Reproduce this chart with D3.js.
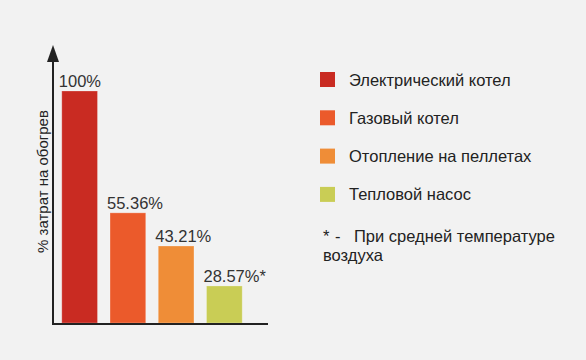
<!DOCTYPE html>
<html><head><meta charset="utf-8">
<script src="https://cdn.jsdelivr.net/npm/d3@7"></script>
<style>
html,body{margin:0;padding:0;background:#f2f2f2;}
svg{display:block;font-family:Arial,"Liberation Sans",sans-serif;}
</style></head>
<body>
<svg id="chart" width="586" height="360"></svg>
<script>
const categories = ["Электрический котел", "Газовый котел", "Отопление на пеллетах", "Тепловой насос"];
const values = [100, 55.36, 43.21, 28.57];
const valueLabels = ["100%", "55.36%", "43.21%", "28.57%*"];
const colors = ["#c92b22", "#eb5a2b", "#ef8d37", "#c9cd55"];
const yTitle = "% затрат на обогрев";
const footnoteMark = ["*", "-"];
const footnote = ["При средней температуре", "воздуха"];

const svg = d3.select("#chart");
svg.append("rect").attr("width",586).attr("height",360).attr("fill","#f2f2f2");

const x = d3.scaleBand().domain(categories).range([56, 248]).paddingInner(0.26).paddingOuter(0.12);
const y = d3.scaleLinear().domain([15, 100]).range([323, 91]);

svg.selectAll("rect.bar").data(values).join("rect")
  .attr("class","bar")
  .attr("x",(d,i)=>x(categories[i]))
  .attr("y",d=>y(d))
  .attr("width",x.bandwidth())
  .attr("height",d=>y.range()[0]-y(d))
  .attr("fill",(d,i)=>colors[i])
  .attr("stroke","rgba(255,255,255,0.25)").attr("stroke-width",1);

svg.selectAll("text.vl").data(values).join("text")
  .attr("class","vl")
  .attr("x",(d,i)=>x(categories[i])-3)
  .attr("y",d=>y(d)-4)
  .attr("font-size",16.5).attr("fill","#333")
  .text((d,i)=>valueLabels[i]);

// axes
svg.append("line").attr("x1",53).attr("x2",53).attr("y1",60).attr("y2",324)
  .attr("stroke","#222").attr("stroke-width",2);
svg.append("line").attr("x1",52).attr("x2",268).attr("y1",324).attr("y2",324)
  .attr("stroke","#222").attr("stroke-width",2);
svg.append("path").attr("d","M53,45 L47,62 L59,62 Z").attr("fill","#222");

svg.append("text")
  .attr("transform","translate(48,181.5) rotate(-90)")
  .attr("text-anchor","middle").attr("font-size",15).attr("fill","#222")
  .text(yTitle);

// legend
const lg = svg.append("g");
categories.forEach((c,i)=>{
  const yy = 72 + i*38.3;
  lg.append("rect").attr("x",320).attr("y",yy).attr("width",15).attr("height",15).attr("fill",colors[i]);
  lg.append("text").attr("x",349).attr("y",yy+13.5).attr("font-size",16.5).attr("fill","#222").text(c);
});
lg.append("text").attr("x",323).attr("y",242).attr("font-size",16.5).attr("fill","#222").text(footnoteMark[0]);
lg.append("text").attr("x",335).attr("y",242).attr("font-size",16.5).attr("fill","#222").text(footnoteMark[1]);
lg.append("text").attr("x",354).attr("y",242).attr("font-size",16.5).attr("fill","#222").text(footnote[0]);
lg.append("text").attr("x",323).attr("y",260.5).attr("font-size",16.5).attr("fill","#222").text(footnote[1]);
</script>
</body></html>
